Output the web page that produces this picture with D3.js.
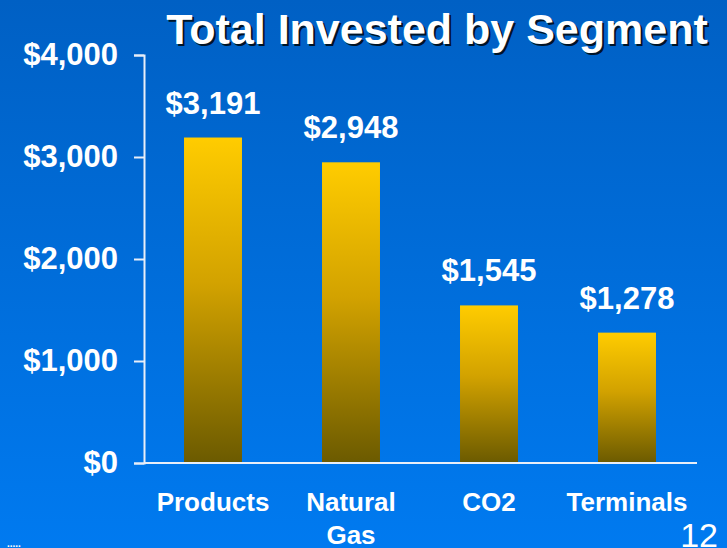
<!DOCTYPE html>
<html>
<head>
<meta charset="utf-8">
<script src="https://cdn.jsdelivr.net/npm/d3@7"></script>
<style>
  body { margin: 0; padding: 0; overflow: hidden; }
  svg { display: block; font-family: Arial, "Liberation Sans", sans-serif; }
</style>
</head>
<body>
<script>
var w = 727;
var h = 548;

// data
var segments = ["Products", "Natural Gas", "CO2", "Terminals"];
var invested = [3191, 2948, 1545, 1278];
var yTicks = [0, 1000, 2000, 3000, 4000];

var svg = d3.select("body").append("svg").attr("width", w).attr("height", h);
var defs = svg.append("defs");

var bg = defs.append("linearGradient").attr("id", "bg")
    .attr("x1", 0).attr("y1", 0).attr("x2", 0).attr("y2", 1);
bg.append("stop").attr("offset", "0%").attr("stop-color", "#0060c4");
bg.append("stop").attr("offset", "100%").attr("stop-color", "#007af0");

var barGrad = defs.append("linearGradient").attr("id", "barGrad")
    .attr("x1", 0).attr("y1", 0).attr("x2", 0).attr("y2", 1);
barGrad.append("stop").attr("offset", "0%").attr("stop-color", "#ffcc00");
barGrad.append("stop").attr("offset", "45%").attr("stop-color", "#d2a200");
barGrad.append("stop").attr("offset", "100%").attr("stop-color", "#6b5a00");

svg.append("rect").attr("width", w).attr("height", h).attr("fill", "url(#bg)");

var x = d3.scaleBand()
    .domain(segments)
    .range([144, 696])
    .paddingInner(0.58)
    .paddingOuter(0.29);

var y = d3.scaleLinear()
    .domain([0, 4000])
    .range([463, 55]);

// title with shadow
var title = "Total Invested by Segment";
svg.append("text")
    .attr("x", 439).attr("y", 46)
    .attr("text-anchor", "middle")
    .attr("font-size", 43).attr("font-weight", "bold")
    .attr("fill", "#001428")
    .text(title);
svg.append("text")
    .attr("x", 437).attr("y", 44)
    .attr("text-anchor", "middle")
    .attr("font-size", 43).attr("font-weight", "bold")
    .attr("fill", "#ffffff")
    .text(title);

// y axis
var yAxis = d3.axisLeft(y)
    .tickValues(yTicks)
    .tickSize(10)
    .tickPadding(16)
    .tickFormat(function (d) { return "$" + d3.format(",")(d); });

var gy = svg.append("g")
    .attr("transform", "translate(144,0)")
    .call(yAxis);
gy.select(".domain").attr("stroke", "#e8eef8").attr("stroke-width", 2);
gy.selectAll(".tick line").attr("stroke", "#e8eef8").attr("stroke-width", 2);
gy.selectAll(".tick text")
    .attr("fill", "#ffffff")
    .attr("font-size", 31)
    .attr("font-weight", "bold")
    .attr("font-family", "Arial, 'Liberation Sans', sans-serif");

// bars
svg.selectAll(".bar")
    .data(invested)
    .enter()
    .append("rect")
    .attr("class", "bar")
    .attr("x", function (d, i) { return x(segments[i]); })
    .attr("y", function (d) { return y(d); })
    .attr("width", x.bandwidth())
    .attr("height", function (d) { return y(0) - y(d); })
    .attr("fill", "url(#barGrad)");

// baseline
svg.append("line")
    .attr("x1", 144).attr("x2", 697)
    .attr("y1", y(0)).attr("y2", y(0))
    .attr("stroke", "#e8eef8").attr("stroke-width", 2);

// value labels
svg.selectAll(".val")
    .data(invested)
    .enter()
    .append("text")
    .attr("class", "val")
    .attr("x", function (d, i) { return x(segments[i]) + x.bandwidth() / 2; })
    .attr("y", function (d) { return y(d) - 24; })
    .attr("text-anchor", "middle")
    .attr("font-size", 31).attr("font-weight", "bold")
    .attr("fill", "#ffffff")
    .text(function (d) { return "$" + d3.format(",")(d); });

// category labels
svg.selectAll(".cat")
    .data(segments)
    .enter()
    .append("text")
    .attr("class", "cat")
    .attr("x", function (d) { return x(d) + x.bandwidth() / 2; })
    .attr("y", 511)
    .attr("text-anchor", "middle")
    .attr("font-size", 26).attr("font-weight", "bold")
    .attr("fill", "#ffffff")
    .each(function (d) {
        var words = d.split(" ");
        var t = d3.select(this);
        words.forEach(function (wd, i) {
            t.append("tspan")
                .attr("x", x(d) + x.bandwidth() / 2)
                .attr("dy", i === 0 ? 0 : 33)
                .text(wd);
        });
    });

// page number
svg.append("text")
    .attr("x", 718).attr("y", 547)
    .attr("text-anchor", "end")
    .attr("font-size", 34)
    .attr("fill", "#ffffff")
    .text("12");

svg.append("text")
    .attr("x", 7).attr("y", 547)
    .attr("font-size", 10).attr("font-weight", "bold")
    .attr("fill", "#ffffff")
    .text(".....");
</script>
</body>
</html>
